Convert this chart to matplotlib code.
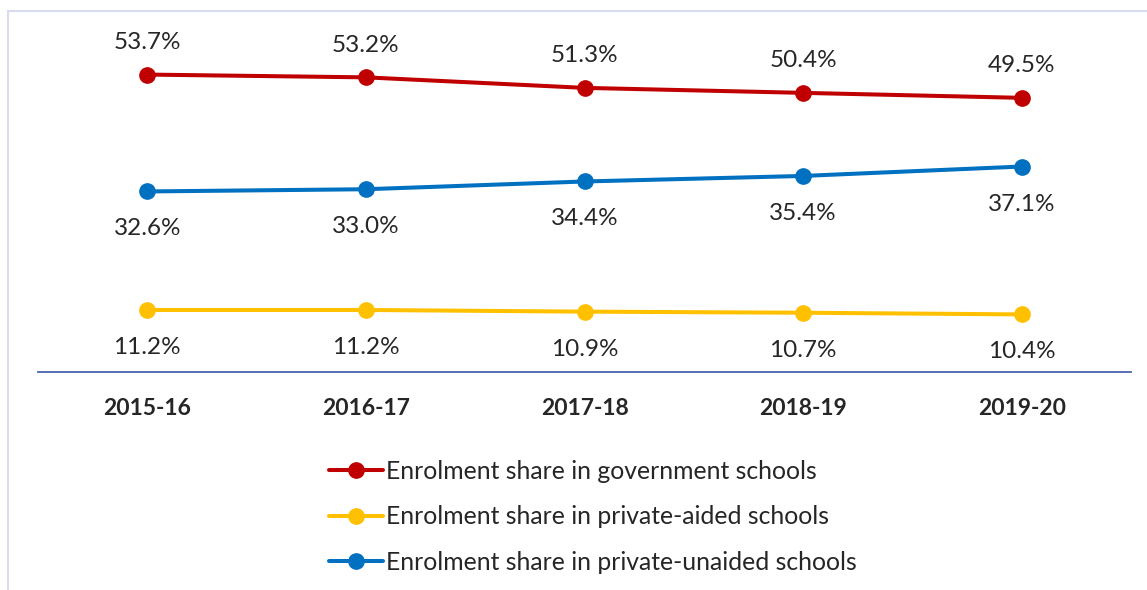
import matplotlib
matplotlib.use("Agg")
import matplotlib.pyplot as plt
from matplotlib.patches import Rectangle

years = ["2015-16", "2016-17", "2017-18", "2018-19", "2019-20"]
govt = [53.7, 53.2, 51.3, 50.4, 49.5]
aided = [11.2, 11.2, 10.9, 10.7, 10.4]
unaided = [32.6, 33.0, 34.4, 35.4, 37.1]

labels = ["Enrolment share in government schools",
          "Enrolment share in private-aided schools",
          "Enrolment share in private-unaided schools"]
colors = ["#C00000", "#FFC000", "#0070C0"]

plt.rcParams['font.family'] = ['Lato', 'DejaVu Sans']
txt = "#262626"

fig = plt.figure(figsize=(11.47, 5.90), dpi=100)
W, H = 1147, 590
ax = fig.add_axes([38 / W, 1 - 372 / H, 1093 / W, 360 / H])

x = list(range(len(years)))
series = [govt, aided, unaided]
# label offset in points (positive = above)
offsets = [23, -27, -27]
for vals, lab, c, off in zip(series, labels, colors, offsets):
    ax.plot(x, vals, color=c, lw=2.9, marker='o', markersize=11,
            solid_capstyle='round', label=lab)
    for xi, v in zip(x, vals):
        ax.annotate(f"{v:.1f}%", (xi, v), xytext=(0, off), textcoords='offset points',
                    ha='center', va='center', fontsize=17.5, color=txt)

ax.set_xlim(-0.5, len(years) - 0.5)
ax.set_ylim(0, 65)
ax.set_yticks([])
ax.set_xticks(x)
ax.set_xticklabels(years, fontsize=16.5, fontweight='bold', color=txt)
ax.tick_params(axis='x', length=0, pad=19)
for s in ['top', 'right', 'left']:
    ax.spines[s].set_visible(False)
ax.spines['bottom'].set_color('#4A66AC')
ax.spines['bottom'].set_linewidth(1.3)

fig.legend(loc='upper left', bbox_to_anchor=(329 / W, 1 - 460 / H), frameon=False,
           fontsize=17.8, handlelength=2.2, handletextpad=0.12, labelspacing=0.9,
           borderpad=0, borderaxespad=0, labelcolor=txt)

fig.patches.append(Rectangle((8 / W, -0.1), 1.2, 1 - 11 / H + 0.1, transform=fig.transFigure,
                             fill=False, edgecolor='#D9DCF0', lw=1.5))

fig.savefig("out.png", dpi=100)
